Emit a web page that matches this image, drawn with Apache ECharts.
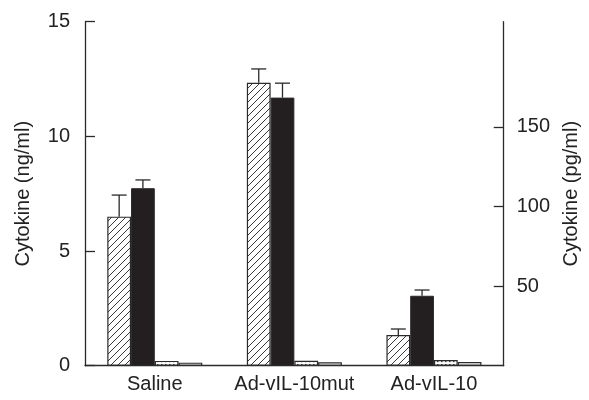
<!DOCTYPE html>
<html><head><meta charset="utf-8">
<script src="https://cdn.jsdelivr.net/npm/echarts@6/dist/echarts.min.js"></script>
<style>html,body{margin:0;padding:0;background:#fff}#c{width:589px;height:400px}</style>
</head><body><div id="c"></div>
<script>
// ---- data ----
const categories = ['Saline', 'Ad-vIL-10mut', 'Ad-vIL-10'];
const hatchedValues = [6.50, 12.34, 1.34];     // ng/ml (left axis)
const hatchedErrors = [0.94, 0.60, 0.26];
const blackValues = [7.74, 11.69, 3.05];       // ng/ml (left axis)
const blackErrors = [0.36, 0.63, 0.25];
const dottedValues = [3.0, 3.1, 3.6];          // pg/ml (right axis)
const whiteValues = [1.9, 2.1, 2.3];           // pg/ml (right axis)
const leftTicks = [0, 5, 10, 15];
const rightTicks = [50, 100, 150];

// ---- patterns ----
function hatchPattern() {
  const s = 7, c = document.createElement('canvas');
  c.width = s; c.height = s;
  const g = c.getContext('2d');
  g.fillStyle = '#fff'; g.fillRect(0, 0, s, s);
  g.strokeStyle = '#222'; g.lineWidth = 0.9;
  g.beginPath();
  g.moveTo(-1, s + 1); g.lineTo(s + 1, -1);
  g.moveTo(-1, 1); g.lineTo(1, -1);
  g.moveTo(s - 1, s + 1); g.lineTo(s + 1, s - 1);
  g.stroke();
  return c;
}
function dotPattern() {
  const c = document.createElement('canvas');
  c.width = 4; c.height = 3;
  const g = c.getContext('2d');
  g.fillStyle = '#fff'; g.fillRect(0, 0, 4, 3);
  g.fillStyle = '#444'; g.fillRect(1, 1, 1.5, 1.2);
  return c;
}

const BW = 23.75;
const font = 'Liberation Sans';
const ink = '#2a2a2a';
const FS = 20;

function errorSeries(values, errors, slot) {
  return {
    type: 'custom', xAxisIndex: 0, yAxisIndex: 0, z: 5, silent: true,
    data: values.map((v, i) => [i, v, v + errors[i]]),
    renderItem: function (params, api) {
      const i = api.value(0);
      const p0 = api.coord([i, api.value(1)]);
      const p1 = api.coord([i, api.value(2)]);
      const x = p0[0] + (slot - 1.5) * BW;
      const hw = 7.5;
      return {
        type: 'group',
        children: [
          { type: 'line', shape: { x1: x, y1: p0[1], x2: x, y2: p1[1] }, style: { stroke: ink, lineWidth: 1.3 } },
          { type: 'line', shape: { x1: x - hw, y1: p1[1], x2: x + hw, y2: p1[1] }, style: { stroke: ink, lineWidth: 1.3 } }
        ]
      };
    }
  };
}

const chart = echarts.init(document.getElementById('c'), null, { renderer: 'canvas' });
chart.setOption({
  animation: false,
  backgroundColor: '#fff',
  textStyle: { fontFamily: font },
  grid: { left: 85, right: 84, top: 21.7, bottom: 34.3, containLabel: false },
  xAxis: {
    type: 'category', data: categories,
    axisLine: { lineStyle: { color: ink, width: 1.3 } },
    axisTick: { show: false },
    axisLabel: { color: '#222', fontSize: FS, fontFamily: font, margin: 9, interval: 0 }
  },
  yAxis: [
    {
      type: 'value', min: 0, max: 15, interval: 5,
      name: 'Cytokine (ng/ml)', nameLocation: 'middle', nameGap: 52, nameRotate: 90,
      nameTextStyle: { color: '#222', fontSize: FS, fontFamily: font },
      axisLine: { show: true, lineStyle: { color: ink, width: 1.3 } },
      axisTick: { show: true, inside: true, length: 10, lineStyle: { color: ink, width: 1.3 } },
      axisLabel: { color: '#222', fontSize: FS, fontFamily: font, margin: 15 },
      splitLine: { show: false }
    },
    {
      type: 'value', min: 0, max: 216, position: 'right',
      name: 'Cytokine (pg/ml)', nameLocation: 'middle', nameGap: 56, nameRotate: 90,
      nameTextStyle: { color: '#222', fontSize: FS, fontFamily: font },
      axisLine: { show: true, lineStyle: { color: ink, width: 1.3 } },
      axisTick: { show: true, inside: true, length: 10, customValues: rightTicks, lineStyle: { color: ink, width: 1.3 } },
      axisLabel: { color: '#222', fontSize: FS, fontFamily: font, margin: 13, customValues: rightTicks },
      splitLine: { show: false }
    }
  ],
  series: [
    {
      type: 'bar', yAxisIndex: 0, data: hatchedValues, barWidth: BW, barGap: '0%',
      itemStyle: { color: { image: hatchPattern(), repeat: 'repeat' }, borderColor: ink, borderWidth: 1.2 }
    },
    {
      type: 'bar', yAxisIndex: 0, data: blackValues, barWidth: BW, barGap: '0%',
      itemStyle: { color: '#231f20', borderColor: ink, borderWidth: 1 }
    },
    {
      type: 'bar', yAxisIndex: 1, data: dottedValues, barWidth: BW, barGap: '0%',
      itemStyle: { color: { image: dotPattern(), repeat: 'repeat' }, borderColor: ink, borderWidth: 1.2 }
    },
    {
      type: 'bar', yAxisIndex: 1, data: whiteValues, barWidth: BW, barGap: '0%',
      itemStyle: { color: '#fff', borderColor: ink, borderWidth: 1.2 }
    },
    errorSeries(hatchedValues, hatchedErrors, 0),
    errorSeries(blackValues, blackErrors, 1)
  ]
});
</script></body></html>
